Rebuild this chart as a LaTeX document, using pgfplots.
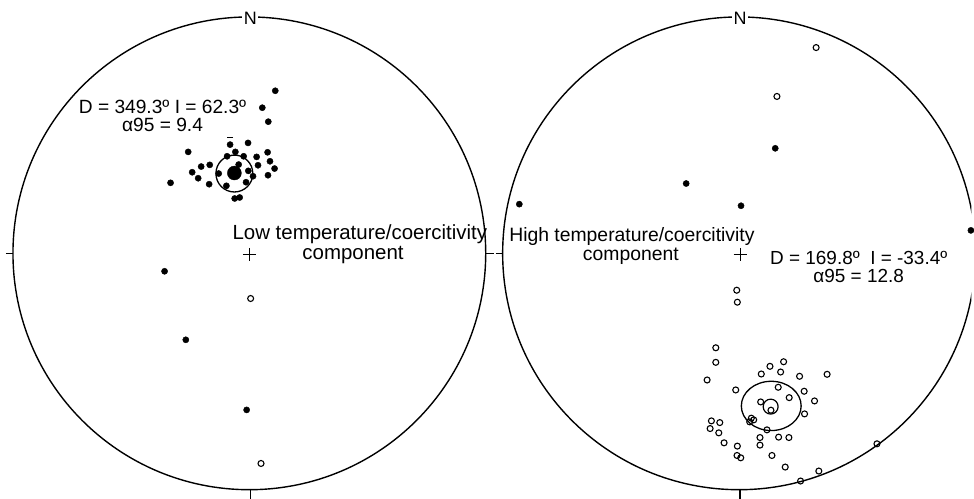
\documentclass[border=0pt]{standalone}
\usepackage{fontspec}
\setmainfont{Liberation Sans}
\usepackage{pgfplots}
\pgfplotsset{compat=1.18}
\begin{document}
\begin{tikzpicture}
\begin{axis}[
  width=974pt, height=500pt, scale only axis,
  xmin=0, xmax=974, ymin=0, ymax=500, y dir=reverse,
  axis line style={draw=none}, ticks=none,
  clip=true,
]
% net outlines
\draw[line width=1.4pt] (axis cs:250,254) circle[radius=237];
\draw[line width=1.4pt] (axis cs:741,254) circle[radius=237];
% ticks
\draw[line width=1.1pt] (axis cs:6,254) -- (axis cs:13,254);
\draw[line width=1.1pt] (axis cs:487,254) -- (axis cs:495,254);
\draw[line width=1.1pt] (axis cs:497,254) -- (axis cs:504,254);
\draw[line width=1.1pt] (axis cs:251,491) -- (axis cs:251,500);
\draw[line width=1.1pt] (axis cs:742,491) -- (axis cs:742,500);
\node[fill=white, inner sep=1.5pt, font=\fontsize{18}{19}\selectfont] at (axis cs:251,18) {N};
\node[fill=white, inner sep=1.5pt, font=\fontsize{18}{19}\selectfont] at (axis cs:742,18) {N};
% centre crosses
\addplot[only marks, mark=+, mark size=6.5pt, line width=1pt] coordinates {(250,255) (742,255)};

% ---- left: low temperature / coercivity component
\addplot[only marks, mark=*, mark size=3.1pt, black] coordinates {
(276,91) (263,108) (269,122)
(230.7,145) (248.7,143.3) (188.7,152.3) (236,152.3) (268.3,152.7)
(227.7,156.7) (244.3,156.7) (257.3,157.3) (270.7,161.7) (258.7,165.7)
(275.3,169) (210.3,165.3) (201.7,167) (192.7,172.7) (198.7,178.7)
(219.3,174) (239.3,165) (249,171.3) (253.7,176.7) (268.7,175.7)
(246.7,182.7) (227,186.3) (209.7,184.7) (171,183.3) (235.3,199) (240.3,198)
(165,272) (186.3,340.7) (247.3,411)
};
\addplot[only marks, mark=-, mark size=3pt, line width=1.2pt] coordinates {(230.7,137.5)};
\addplot[only marks, mark=o, mark size=3pt, line width=1.1pt] coordinates {(251.3,299.3) (261.7,464.7)};
\addplot[only marks, mark=*, mark size=7pt] coordinates {(235,173.5)};
\draw[line width=1.3pt] (axis cs:235,174) circle[radius=18.5];
\node[align=center, font=\fontsize{19.2}{19}\selectfont] at (axis cs:163,116) {D = 349.3º I = 62.3º\\[-1pt]α95 = 9.4};
\node[anchor=west, font=\fontsize{20.5}{20}\selectfont, inner sep=0pt] at (axis cs:233,235) {Low temperature/coercitivity};
\node[font=\fontsize{20.5}{20}\selectfont] at (axis cs:354,256) {component};

% ---- right: high temperature / coercivity component
\addplot[only marks, mark=*, mark size=3.1pt, black] coordinates {
(777.3,148.7) (688,184) (520.7,204.7) (743,206.3) (973.5,231)
};
\addplot[only marks, mark=o, mark size=3pt, line width=1.1pt] coordinates {
(818.3,47.7) (779,96.7) (738.7,291) (739.3,303)
(717.7,348.7) (717.7,363.3) (709,381) (737.7,391) (763.3,375) (772,367.3)
(785.7,362.7) (782.7,373) (801.7,377.3) (829.3,375.3) (780.3,388.3)
(806.3,392.3) (791.3,398.7) (816.7,402) (762.7,403) (773,411.3)
(806.7,415) (753.3,419.3) (755.7,421) (751.7,423) (769,431)
(713.3,422) (721.7,423.7) (712,429.7) (720.7,434) (726,444) (739.3,447.3)
(762,438.7) (762,446.3) (780.7,438.3) (791,438.7) (739,456.7) (742.7,459)
(774,456.7) (787.3,468.3) (821,472.3) (802.7,482.3) (879.3,445)
};
\draw[line width=1.3pt] (axis cs:773.3,407) ellipse[x radius=30, y radius=24.7];
\draw[line width=1.2pt] (axis cs:772.7,407.7) circle[radius=7.5];
\node[anchor=west, font=\fontsize{19.4}{20}\selectfont, inner sep=0pt] at (axis cs:510.5,237) {High temperature/coercitivity};
\node[font=\fontsize{19.4}{20}\selectfont] at (axis cs:632.5,257) {component};
\node[align=center, font=\fontsize{19}{19}\selectfont] at (axis cs:861,268) {D = 169.8º\ \ I = -33.4º\\[-1pt]α95 = 12.8};
\end{axis}
\end{tikzpicture}
\end{document}
